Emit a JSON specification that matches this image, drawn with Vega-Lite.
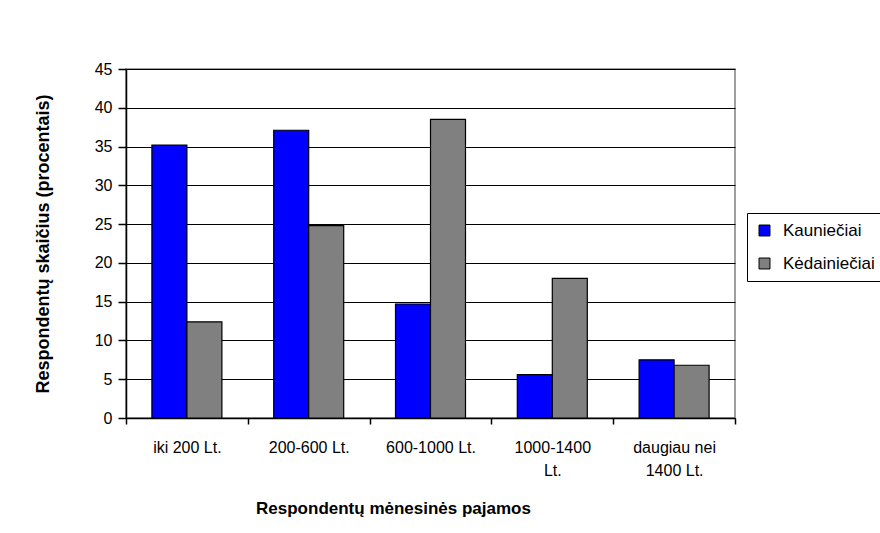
{
  "$schema": "https://vega.github.io/schema/vega-lite/v6.json",
  "autosize": {"type": "none"},
  "padding": {"left": 126, "top": 69, "right": 145, "bottom": 115},
  "width": 609,
  "height": 349,
  "background": "white",
  "config": {
    "font": "Liberation Sans",
    "view": {"stroke": "#808080", "strokeWidth": 1.5},
    "axis": {"labelFont": "Liberation Sans", "titleFont": "Liberation Sans", "labelColor": "black", "titleColor": "black", "domainColor": "black", "tickColor": "black", "gridColor": "black", "gridOpacity": 1, "domainWidth": 1.5, "tickWidth": 1.5}
  },
  "data": {
    "values": [
      {"pajamos": "iki 200 Lt.", "grupe": "Kauniečiai", "procentai": 35.2},
      {"pajamos": "iki 200 Lt.", "grupe": "Kėdainiečiai", "procentai": 12.4},
      {"pajamos": "200-600 Lt.", "grupe": "Kauniečiai", "procentai": 37.1},
      {"pajamos": "200-600 Lt.", "grupe": "Kėdainiečiai", "procentai": 24.8},
      {"pajamos": "600-1000 Lt.", "grupe": "Kauniečiai", "procentai": 14.7},
      {"pajamos": "600-1000 Lt.", "grupe": "Kėdainiečiai", "procentai": 38.5},
      {"pajamos": "1000-1400 Lt.", "grupe": "Kauniečiai", "procentai": 5.6},
      {"pajamos": "1000-1400 Lt.", "grupe": "Kėdainiečiai", "procentai": 18.0},
      {"pajamos": "daugiau nei 1400 Lt.", "grupe": "Kauniečiai", "procentai": 7.5},
      {"pajamos": "daugiau nei 1400 Lt.", "grupe": "Kėdainiečiai", "procentai": 6.8}
    ]
  },
  "mark": {"type": "bar", "stroke": "black", "strokeWidth": 1.2},
  "encoding": {
    "x": {
      "field": "pajamos",
      "type": "nominal",
      "sort": null,
      "scale": {"paddingInner": 0, "paddingOuter": 0},
      "axis": {
        "title": "Respondentų mėnesinės pajamos",
        "titleFontSize": 17,
        "titleFontWeight": "bold",
        "titlePadding": 22,
        "titleX": 267,
        "labelAngle": 0,
        "labelFontSize": 16,
        "labelPadding": 15,
        "labelLineHeight": 23,
        "tickBand": "extent",
        "tickSize": 6,
        "labelExpr": "datum.value == '1000-1400 Lt.' ? ['1000-1400', 'Lt.'] : datum.value == 'daugiau nei 1400 Lt.' ? ['daugiau nei', '1400 Lt.'] : datum.value"
      }
    },
    "xOffset": {
      "field": "grupe",
      "type": "nominal",
      "scale": {"paddingInner": 0, "paddingOuter": 0.74}
    },
    "y": {
      "field": "procentai",
      "type": "quantitative",
      "scale": {"domain": [0, 45], "nice": false},
      "axis": {
        "title": "Respondentų skaičius (procentais)",
        "titleFontSize": 18,
        "titleFontWeight": "bold",
        "titlePadding": 42,
        "values": [0, 5, 10, 15, 20, 25, 30, 35, 40, 45],
        "labelFontSize": 16,
        "labelPadding": 6,
        "tickSize": 8,
        "grid": true
      }
    },
    "color": {
      "field": "grupe",
      "type": "nominal",
      "scale": {"domain": ["Kauniečiai", "Kėdainiečiai"], "range": ["#0000FF", "#808080"]},
      "legend": {
        "title": null,
        "orient": "none",
        "legendX": 621,
        "legendY": 144,
        "strokeColor": "black",
        "padding": 9,
        "symbolType": "square",
        "symbolSize": 120,
        "symbolStrokeColor": "black",
        "symbolStrokeWidth": 1,
        "labelFontSize": 17,
        "labelOffset": 10,
        "labelColor": "black",
        "labelFont": "Liberation Sans",
        "rowPadding": 15,
        "fillColor": "white"
      }
    }
  }
}
